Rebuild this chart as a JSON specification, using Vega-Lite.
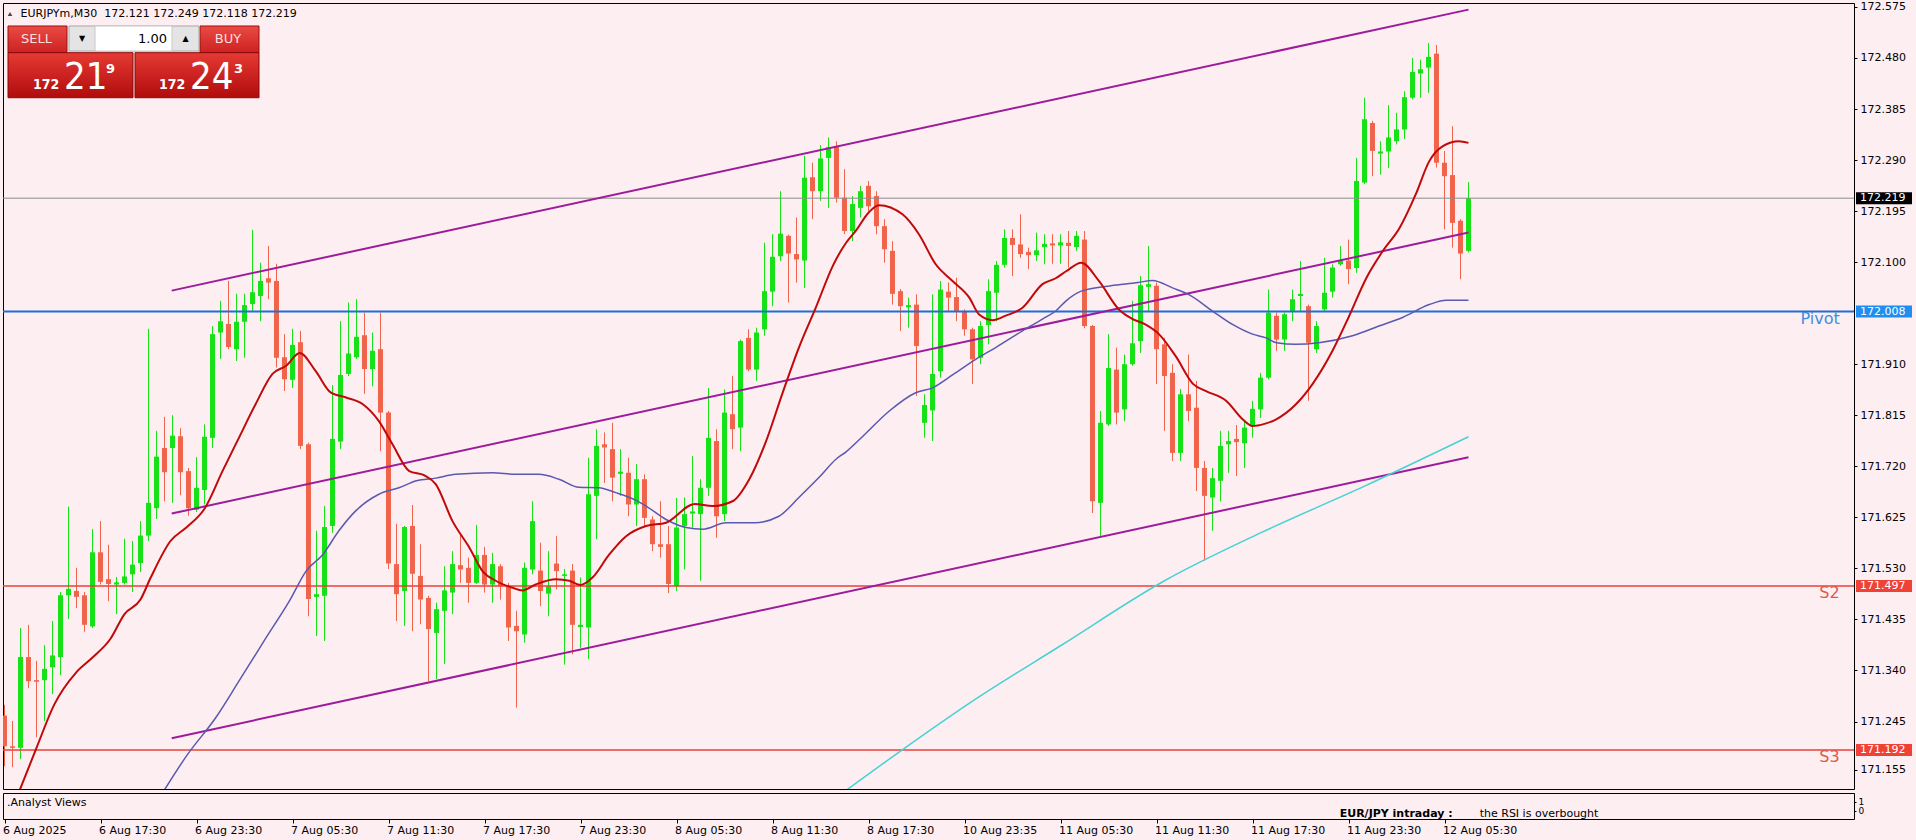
{
"$schema":"https://vega.github.io/schema/vega-lite/v6.json",
"background":"#fdeef2",
"padding":{"left":1,"top":0,"right":6,"bottom":8},
"spacing":2,
"config":{"view":{"stroke":"#000000","strokeWidth":1},"scale":{"continuousPadding":0},"axis":{"labelFont":"DejaVu Sans","labelFontSize":11,"labelColor":"#000000","tickColor":"#000000","domain":false,"grid":false}},
"resolve":{"scale":{"x":"independent","y":"independent"}},
"datasets":{
"candles":[
{"i":0,"o":171.256,"h":171.276,"l":171.162,"c":171.199},
{"i":1,"o":171.199,"h":171.246,"l":171.160,"c":171.196},
{"i":2,"o":171.196,"h":171.419,"l":171.175,"c":171.365},
{"i":3,"o":171.365,"h":171.425,"l":171.307,"c":171.320},
{"i":4,"o":171.322,"h":171.358,"l":171.216,"c":171.319},
{"i":5,"o":171.322,"h":171.387,"l":171.246,"c":171.343},
{"i":6,"o":171.346,"h":171.432,"l":171.296,"c":171.368},
{"i":7,"o":171.365,"h":171.486,"l":171.331,"c":171.480},
{"i":8,"o":171.480,"h":171.645,"l":171.436,"c":171.492},
{"i":9,"o":171.488,"h":171.531,"l":171.456,"c":171.477},
{"i":10,"o":171.480,"h":171.486,"l":171.412,"c":171.425},
{"i":11,"o":171.422,"h":171.603,"l":171.419,"c":171.560},
{"i":12,"o":171.560,"h":171.618,"l":171.500,"c":171.505},
{"i":13,"o":171.510,"h":171.574,"l":171.469,"c":171.501},
{"i":14,"o":171.500,"h":171.514,"l":171.445,"c":171.504},
{"i":15,"o":171.503,"h":171.585,"l":171.500,"c":171.515},
{"i":16,"o":171.519,"h":171.581,"l":171.486,"c":171.537},
{"i":17,"o":171.540,"h":171.618,"l":171.523,"c":171.591},
{"i":18,"o":171.591,"h":171.976,"l":171.581,"c":171.652},
{"i":19,"o":171.642,"h":171.786,"l":171.622,"c":171.738},
{"i":20,"o":171.754,"h":171.812,"l":171.655,"c":171.709},
{"i":21,"o":171.754,"h":171.815,"l":171.652,"c":171.777},
{"i":22,"o":171.776,"h":171.791,"l":171.666,"c":171.709},
{"i":23,"o":171.711,"h":171.717,"l":171.628,"c":171.642},
{"i":24,"o":171.639,"h":171.737,"l":171.635,"c":171.680},
{"i":25,"o":171.676,"h":171.798,"l":171.649,"c":171.775},
{"i":26,"o":171.773,"h":171.981,"l":171.754,"c":171.966},
{"i":27,"o":171.969,"h":172.028,"l":171.920,"c":171.990},
{"i":28,"o":171.985,"h":172.065,"l":171.938,"c":171.942},
{"i":29,"o":171.938,"h":172.041,"l":171.916,"c":171.989},
{"i":30,"o":171.989,"h":172.041,"l":171.922,"c":172.020},
{"i":31,"o":172.022,"h":172.160,"l":172.009,"c":172.044},
{"i":32,"o":172.037,"h":172.099,"l":171.990,"c":172.065},
{"i":33,"o":172.070,"h":172.130,"l":172.031,"c":172.062},
{"i":34,"o":172.065,"h":172.097,"l":171.904,"c":171.922},
{"i":35,"o":171.923,"h":171.966,"l":171.860,"c":171.882},
{"i":36,"o":171.881,"h":171.976,"l":171.866,"c":171.946},
{"i":37,"o":171.951,"h":171.972,"l":171.752,"c":171.758},
{"i":38,"o":171.761,"h":171.764,"l":171.441,"c":171.473},
{"i":39,"o":171.477,"h":171.600,"l":171.404,"c":171.482},
{"i":40,"o":171.479,"h":171.646,"l":171.395,"c":171.607},
{"i":41,"o":171.609,"h":171.871,"l":171.596,"c":171.771},
{"i":42,"o":171.766,"h":171.990,"l":171.752,"c":171.890},
{"i":43,"o":171.892,"h":172.025,"l":171.888,"c":171.930},
{"i":44,"o":171.923,"h":172.031,"l":171.920,"c":171.961},
{"i":45,"o":171.964,"h":172.006,"l":171.855,"c":171.901},
{"i":46,"o":171.901,"h":171.969,"l":171.869,"c":171.935},
{"i":47,"o":171.938,"h":172.006,"l":171.748,"c":171.820},
{"i":48,"o":171.820,"h":171.823,"l":171.529,"c":171.539},
{"i":49,"o":171.538,"h":171.613,"l":171.432,"c":171.482},
{"i":50,"o":171.488,"h":171.609,"l":171.423,"c":171.607},
{"i":51,"o":171.609,"h":171.648,"l":171.413,"c":171.520},
{"i":52,"o":171.516,"h":171.575,"l":171.426,"c":171.472},
{"i":53,"o":171.475,"h":171.479,"l":171.320,"c":171.417},
{"i":54,"o":171.410,"h":171.466,"l":171.324,"c":171.454},
{"i":55,"o":171.451,"h":171.534,"l":171.352,"c":171.489},
{"i":56,"o":171.485,"h":171.562,"l":171.445,"c":171.538},
{"i":57,"o":171.536,"h":171.595,"l":171.503,"c":171.528},
{"i":58,"o":171.531,"h":171.550,"l":171.466,"c":171.503},
{"i":59,"o":171.503,"h":171.611,"l":171.501,"c":171.555},
{"i":60,"o":171.555,"h":171.570,"l":171.485,"c":171.500},
{"i":61,"o":171.500,"h":171.559,"l":171.466,"c":171.538},
{"i":62,"o":171.534,"h":171.538,"l":171.472,"c":171.497},
{"i":63,"o":171.497,"h":171.503,"l":171.395,"c":171.420},
{"i":64,"o":171.423,"h":171.451,"l":171.271,"c":171.413},
{"i":65,"o":171.407,"h":171.541,"l":171.392,"c":171.531},
{"i":66,"o":171.528,"h":171.655,"l":171.519,"c":171.618},
{"i":67,"o":171.526,"h":171.578,"l":171.460,"c":171.488},
{"i":68,"o":171.483,"h":171.562,"l":171.441,"c":171.497},
{"i":69,"o":171.539,"h":171.590,"l":171.491,"c":171.525},
{"i":70,"o":171.516,"h":171.529,"l":171.351,"c":171.519},
{"i":71,"o":171.526,"h":171.538,"l":171.370,"c":171.425},
{"i":72,"o":171.421,"h":171.513,"l":171.382,"c":171.425},
{"i":73,"o":171.420,"h":171.736,"l":171.361,"c":171.668},
{"i":74,"o":171.665,"h":171.789,"l":171.584,"c":171.758},
{"i":75,"o":171.761,"h":171.783,"l":171.689,"c":171.755},
{"i":76,"o":171.752,"h":171.801,"l":171.655,"c":171.699},
{"i":77,"o":171.706,"h":171.752,"l":171.665,"c":171.710},
{"i":78,"o":171.708,"h":171.736,"l":171.627,"c":171.649},
{"i":79,"o":171.649,"h":171.724,"l":171.609,"c":171.696},
{"i":80,"o":171.696,"h":171.705,"l":171.609,"c":171.624},
{"i":81,"o":171.621,"h":171.627,"l":171.562,"c":171.575},
{"i":82,"o":171.575,"h":171.655,"l":171.550,"c":171.570},
{"i":83,"o":171.575,"h":171.609,"l":171.484,"c":171.501},
{"i":84,"o":171.497,"h":171.661,"l":171.488,"c":171.606},
{"i":85,"o":171.609,"h":171.662,"l":171.528,"c":171.631},
{"i":86,"o":171.632,"h":171.739,"l":171.606,"c":171.636},
{"i":87,"o":171.631,"h":171.696,"l":171.507,"c":171.680},
{"i":88,"o":171.680,"h":171.866,"l":171.665,"c":171.773},
{"i":89,"o":171.767,"h":171.789,"l":171.587,"c":171.627},
{"i":90,"o":171.631,"h":171.863,"l":171.618,"c":171.820},
{"i":91,"o":171.817,"h":171.888,"l":171.752,"c":171.789},
{"i":92,"o":171.792,"h":171.956,"l":171.748,"c":171.953},
{"i":93,"o":171.959,"h":171.975,"l":171.897,"c":171.900},
{"i":94,"o":171.900,"h":171.978,"l":171.879,"c":171.969},
{"i":95,"o":171.975,"h":172.136,"l":171.963,"c":172.046},
{"i":96,"o":172.045,"h":172.152,"l":172.018,"c":172.110},
{"i":97,"o":172.111,"h":172.232,"l":172.102,"c":172.153},
{"i":98,"o":172.149,"h":172.151,"l":172.025,"c":172.116},
{"i":99,"o":172.115,"h":172.183,"l":172.062,"c":172.105},
{"i":100,"o":172.103,"h":172.298,"l":172.052,"c":172.257},
{"i":101,"o":172.258,"h":172.285,"l":172.180,"c":172.232},
{"i":102,"o":172.232,"h":172.318,"l":172.214,"c":172.293},
{"i":103,"o":172.294,"h":172.332,"l":172.201,"c":172.314},
{"i":104,"o":172.316,"h":172.325,"l":172.211,"c":172.220},
{"i":105,"o":172.220,"h":172.273,"l":172.152,"c":172.158},
{"i":106,"o":172.158,"h":172.223,"l":172.139,"c":172.208},
{"i":107,"o":172.201,"h":172.242,"l":172.183,"c":172.232},
{"i":108,"o":172.242,"h":172.251,"l":172.195,"c":172.204},
{"i":109,"o":172.223,"h":172.232,"l":172.152,"c":172.167},
{"i":110,"o":172.167,"h":172.180,"l":172.099,"c":172.124},
{"i":111,"o":172.121,"h":172.139,"l":172.021,"c":172.041},
{"i":112,"o":172.046,"h":172.050,"l":171.972,"c":172.018},
{"i":113,"o":172.016,"h":172.034,"l":171.978,"c":172.020},
{"i":114,"o":172.021,"h":172.040,"l":171.851,"c":171.944},
{"i":115,"o":171.801,"h":171.854,"l":171.773,"c":171.834},
{"i":116,"o":171.824,"h":172.040,"l":171.767,"c":171.892},
{"i":117,"o":171.897,"h":172.065,"l":171.885,"c":172.049},
{"i":118,"o":172.045,"h":172.062,"l":172.009,"c":172.034},
{"i":119,"o":172.035,"h":172.071,"l":171.990,"c":172.009},
{"i":120,"o":172.008,"h":172.012,"l":171.963,"c":171.975},
{"i":121,"o":171.975,"h":171.978,"l":171.873,"c":171.919},
{"i":122,"o":171.922,"h":171.990,"l":171.910,"c":171.981},
{"i":123,"o":171.983,"h":172.068,"l":171.947,"c":172.046},
{"i":124,"o":172.043,"h":172.102,"l":171.990,"c":172.095},
{"i":125,"o":172.095,"h":172.161,"l":172.090,"c":172.145},
{"i":126,"o":172.145,"h":172.161,"l":172.074,"c":172.132},
{"i":127,"o":172.133,"h":172.189,"l":172.108,"c":172.115},
{"i":128,"o":172.119,"h":172.127,"l":172.087,"c":172.113},
{"i":129,"o":172.113,"h":172.155,"l":172.102,"c":172.122},
{"i":130,"o":172.128,"h":172.152,"l":172.096,"c":172.134},
{"i":131,"o":172.135,"h":172.152,"l":172.097,"c":172.131},
{"i":132,"o":172.131,"h":172.152,"l":172.097,"c":172.137},
{"i":133,"o":172.136,"h":172.158,"l":172.090,"c":172.130},
{"i":134,"o":172.128,"h":172.158,"l":172.121,"c":172.149},
{"i":135,"o":172.142,"h":172.158,"l":171.977,"c":171.981},
{"i":136,"o":171.981,"h":171.983,"l":171.633,"c":171.655},
{"i":137,"o":171.652,"h":171.823,"l":171.590,"c":171.801},
{"i":138,"o":171.798,"h":171.966,"l":171.795,"c":171.903},
{"i":139,"o":171.900,"h":171.941,"l":171.798,"c":171.820},
{"i":140,"o":171.826,"h":171.928,"l":171.804,"c":171.910},
{"i":141,"o":171.910,"h":172.028,"l":171.907,"c":171.949},
{"i":142,"o":171.953,"h":172.074,"l":171.931,"c":172.057},
{"i":143,"o":172.054,"h":172.130,"l":172.009,"c":172.059},
{"i":144,"o":172.056,"h":172.062,"l":171.873,"c":171.938},
{"i":145,"o":171.947,"h":171.959,"l":171.786,"c":171.888},
{"i":146,"o":171.894,"h":171.910,"l":171.730,"c":171.745},
{"i":147,"o":171.745,"h":171.864,"l":171.730,"c":171.854},
{"i":148,"o":171.854,"h":171.928,"l":171.804,"c":171.823},
{"i":149,"o":171.829,"h":171.879,"l":171.674,"c":171.717},
{"i":150,"o":171.717,"h":171.730,"l":171.544,"c":171.665},
{"i":151,"o":171.662,"h":171.717,"l":171.600,"c":171.698},
{"i":152,"o":171.693,"h":171.786,"l":171.655,"c":171.758},
{"i":153,"o":171.761,"h":171.786,"l":171.708,"c":171.767},
{"i":154,"o":171.771,"h":171.797,"l":171.702,"c":171.765},
{"i":155,"o":171.763,"h":171.804,"l":171.717,"c":171.792},
{"i":156,"o":171.795,"h":171.842,"l":171.773,"c":171.827},
{"i":157,"o":171.826,"h":171.894,"l":171.810,"c":171.885},
{"i":158,"o":171.885,"h":172.049,"l":171.882,"c":172.006},
{"i":159,"o":172.000,"h":172.006,"l":171.935,"c":171.956},
{"i":160,"o":171.956,"h":172.006,"l":171.935,"c":172.003},
{"i":161,"o":172.008,"h":172.049,"l":171.990,"c":172.031},
{"i":162,"o":172.037,"h":172.102,"l":172.009,"c":172.041},
{"i":163,"o":172.018,"h":172.021,"l":171.842,"c":171.950},
{"i":164,"o":171.938,"h":171.990,"l":171.931,"c":171.981},
{"i":165,"o":172.012,"h":172.108,"l":172.009,"c":172.043},
{"i":166,"o":172.045,"h":172.096,"l":172.034,"c":172.090},
{"i":167,"o":172.096,"h":172.130,"l":172.093,"c":172.103},
{"i":168,"o":172.103,"h":172.142,"l":172.059,"c":172.087},
{"i":169,"o":172.089,"h":172.294,"l":172.080,"c":172.251},
{"i":170,"o":172.248,"h":172.406,"l":172.245,"c":172.366},
{"i":171,"o":172.359,"h":172.363,"l":172.260,"c":172.307},
{"i":172,"o":172.302,"h":172.325,"l":172.263,"c":172.306},
{"i":173,"o":172.306,"h":172.392,"l":172.275,"c":172.332},
{"i":174,"o":172.325,"h":172.378,"l":172.319,"c":172.347},
{"i":175,"o":172.347,"h":172.418,"l":172.329,"c":172.407},
{"i":176,"o":172.406,"h":172.480,"l":172.403,"c":172.454},
{"i":177,"o":172.451,"h":172.477,"l":172.406,"c":172.459},
{"i":178,"o":172.462,"h":172.508,"l":172.415,"c":172.482},
{"i":179,"o":172.488,"h":172.504,"l":172.276,"c":172.285},
{"i":180,"o":172.285,"h":172.307,"l":172.161,"c":172.260},
{"i":181,"o":172.262,"h":172.353,"l":172.127,"c":172.173},
{"i":182,"o":172.177,"h":172.180,"l":172.068,"c":172.116},
{"i":183,"o":172.121,"h":172.249,"l":172.118,"c":172.219}
],
"ma":[
{"ma":"fast","i":1.6,"p":171.106},{"ma":"fast","i":4,"p":171.196},{"ma":"fast","i":6.2,"p":171.276},{"ma":"fast","i":9,"p":171.337},{"ma":"fast","i":11,"p":171.364},{"ma":"fast","i":13.25,"p":171.399},{"ma":"fast","i":15,"p":171.445},{"ma":"fast","i":17,"p":171.472},{"ma":"fast","i":18.25,"p":171.512},{"ma":"fast","i":20.75,"p":171.581},{"ma":"fast","i":22.8,"p":171.607},{"ma":"fast","i":25,"p":171.641},{"ma":"fast","i":27.25,"p":171.711},{"ma":"fast","i":29.3,"p":171.773},{"ma":"fast","i":31.4,"p":171.836},{"ma":"fast","i":33.5,"p":171.892},{"ma":"fast","i":35.2,"p":171.907},{"ma":"fast","i":36.9,"p":171.931},{"ma":"fast","i":38.9,"p":171.897},{"ma":"fast","i":40.8,"p":171.857},{"ma":"fast","i":42.7,"p":171.848},{"ma":"fast","i":44.75,"p":171.836},{"ma":"fast","i":46.8,"p":171.804},{"ma":"fast","i":48.5,"p":171.761},{"ma":"fast","i":50.6,"p":171.711},{"ma":"fast","i":52.5,"p":171.703},{"ma":"fast","i":53.9,"p":171.687},{"ma":"fast","i":56,"p":171.618},{"ma":"fast","i":58.1,"p":171.569},{"ma":"fast","i":59.75,"p":171.525},{"ma":"fast","i":61.4,"p":171.507},{"ma":"fast","i":63.5,"p":171.494},{"ma":"fast","i":64.75,"p":171.489},{"ma":"fast","i":66.4,"p":171.500},{"ma":"fast","i":68.9,"p":171.510},{"ma":"fast","i":70.6,"p":171.507},{"ma":"fast","i":72,"p":171.499},{"ma":"fast","i":73.5,"p":171.513},{"ma":"fast","i":75.6,"p":171.556},{"ma":"fast","i":77.7,"p":171.590},{"ma":"fast","i":80.2,"p":171.609},{"ma":"fast","i":82.7,"p":171.615},{"ma":"fast","i":86.3,"p":171.650},{"ma":"fast","i":88.5,"p":171.646},{"ma":"fast","i":91,"p":171.655},{"ma":"fast","i":93.1,"p":171.696},{"ma":"fast","i":95.2,"p":171.767},{"ma":"fast","i":97.2,"p":171.854},{"ma":"fast","i":99.3,"p":171.941},{"ma":"fast","i":101.4,"p":172.015},{"ma":"fast","i":103.6,"p":172.095},{"ma":"fast","i":105.2,"p":172.136},{"ma":"fast","i":106.4,"p":172.158},{"ma":"fast","i":108,"p":172.192},{"ma":"fast","i":109.3,"p":172.206},{"ma":"fast","i":112.25,"p":172.189},{"ma":"fast","i":114.3,"p":172.152},{"ma":"fast","i":116.4,"p":172.096},{"ma":"fast","i":118.5,"p":172.065},{"ma":"fast","i":120.6,"p":172.034},{"ma":"fast","i":121.8,"p":172.003},{"ma":"fast","i":123.5,"p":171.992},{"ma":"fast","i":125.1,"p":172.000},{"ma":"fast","i":127.25,"p":172.015},{"ma":"fast","i":129.75,"p":172.059},{"ma":"fast","i":131.4,"p":172.070},{"ma":"fast","i":132.7,"p":172.083},{"ma":"fast","i":134.6,"p":172.099},{"ma":"fast","i":136.8,"p":172.065},{"ma":"fast","i":139.3,"p":172.012},{"ma":"fast","i":140.9,"p":171.995},{"ma":"fast","i":142.6,"p":171.984},{"ma":"fast","i":144.3,"p":171.966},{"ma":"fast","i":146.4,"p":171.925},{"ma":"fast","i":148.6,"p":171.873},{"ma":"fast","i":150.2,"p":171.860},{"ma":"fast","i":152.7,"p":171.842},{"ma":"fast","i":154.8,"p":171.807},{"ma":"fast","i":156,"p":171.795},{"ma":"fast","i":157.5,"p":171.799},{"ma":"fast","i":158.9,"p":171.807},{"ma":"fast","i":161.4,"p":171.835},{"ma":"fast","i":163.5,"p":171.873},{"ma":"fast","i":166,"p":171.935},{"ma":"fast","i":168,"p":171.997},{"ma":"fast","i":170.25,"p":172.071},{"ma":"fast","i":172.3,"p":172.121},{"ma":"fast","i":174.4,"p":172.164},{"ma":"fast","i":176.4,"p":172.226},{"ma":"fast","i":178.1,"p":172.288},{"ma":"fast","i":179.8,"p":172.316},{"ma":"fast","i":181.8,"p":172.325},{"ma":"fast","i":183,"p":172.322},
{"ma":"mid","i":19.5,"p":171.106},{"ma":"mid","i":22.8,"p":171.182},{"ma":"mid","i":26.4,"p":171.252},{"ma":"mid","i":29.3,"p":171.320},{"ma":"mid","i":32.7,"p":171.401},{"ma":"mid","i":35.6,"p":171.469},{"ma":"mid","i":37.7,"p":171.525},{"ma":"mid","i":39.8,"p":171.556},{"ma":"mid","i":41.8,"p":171.600},{"ma":"mid","i":43.9,"p":171.637},{"ma":"mid","i":46.8,"p":171.668},{"ma":"mid","i":49.3,"p":171.680},{"ma":"mid","i":51.5,"p":171.693},{"ma":"mid","i":53.9,"p":171.698},{"ma":"mid","i":56.4,"p":171.705},{"ma":"mid","i":61,"p":171.708},{"ma":"mid","i":63.9,"p":171.705},{"ma":"mid","i":66.8,"p":171.705},{"ma":"mid","i":69.3,"p":171.696},{"ma":"mid","i":71.8,"p":171.681},{"ma":"mid","i":74.3,"p":171.680},{"ma":"mid","i":76.4,"p":171.671},{"ma":"mid","i":78.9,"p":171.657},{"ma":"mid","i":80.2,"p":171.646},{"ma":"mid","i":82.7,"p":171.621},{"ma":"mid","i":85.2,"p":171.606},{"ma":"mid","i":87.3,"p":171.603},{"ma":"mid","i":90.2,"p":171.615},{"ma":"mid","i":93.8,"p":171.615},{"ma":"mid","i":96.8,"p":171.627},{"ma":"mid","i":99.3,"p":171.662},{"ma":"mid","i":101.8,"p":171.699},{"ma":"mid","i":104,"p":171.734},{"ma":"mid","i":105.2,"p":171.747},{"ma":"mid","i":107.3,"p":171.776},{"ma":"mid","i":110.6,"p":171.823},{"ma":"mid","i":113.9,"p":171.857},{"ma":"mid","i":116,"p":171.866},{"ma":"mid","i":118.6,"p":171.891},{"ma":"mid","i":121.4,"p":171.919},{"ma":"mid","i":123.9,"p":171.941},{"ma":"mid","i":127.25,"p":171.972},{"ma":"mid","i":129.75,"p":171.994},{"ma":"mid","i":131.4,"p":172.009},{"ma":"mid","i":132.7,"p":172.028},{"ma":"mid","i":134.6,"p":172.046},{"ma":"mid","i":138.3,"p":172.056},{"ma":"mid","i":141.7,"p":172.062},{"ma":"mid","i":143.5,"p":172.066},{"ma":"mid","i":146,"p":172.052},{"ma":"mid","i":148,"p":172.040},{"ma":"mid","i":151,"p":172.009},{"ma":"mid","i":153.5,"p":171.984},{"ma":"mid","i":156,"p":171.966},{"ma":"mid","i":157.7,"p":171.959},{"ma":"mid","i":159,"p":171.950},{"ma":"mid","i":161.4,"p":171.947},{"ma":"mid","i":164.3,"p":171.950},{"ma":"mid","i":168.5,"p":171.963},{"ma":"mid","i":171.8,"p":171.981},{"ma":"mid","i":174.75,"p":171.997},{"ma":"mid","i":178.1,"p":172.021},{"ma":"mid","i":180.2,"p":172.029},{"ma":"mid","i":183,"p":172.029},
{"ma":"slow","i":104.2,"p":171.106},{"ma":"slow","i":112,"p":171.190},{"ma":"slow","i":121,"p":171.283},{"ma":"slow","i":132,"p":171.386},{"ma":"slow","i":145,"p":171.507},{"ma":"slow","i":157,"p":171.596},{"ma":"slow","i":170,"p":171.683},{"ma":"slow","i":183,"p":171.775}
],
"channel":[
{"line":"top","i":20.9,"p":172.047},{"line":"top","i":183,"p":172.570},
{"line":"middle","i":20.9,"p":171.632},{"line":"middle","i":183,"p":172.155},
{"line":"bottom","i":20.9,"p":171.214},{"line":"bottom","i":183,"p":171.737}
],
"levels":[
{"name":"bid","v":172.219},{"name":"Pivot","v":172.008},{"name":"S2","v":171.497},{"name":"S3","v":171.192}
]
},
"vconcat":[
{"width":1851,"height":786,
"layer":[
{"data":{"name":"candles"},"mark":{"type":"rule","strokeWidth":1,"clip":true},
"encoding":{
"x":{"field":"i","type":"quantitative","scale":{"domain":[-0.1875,231.1875],"nice":false,"zero":false,"padding":0},"axis":null},
"y":{"field":"l","type":"quantitative","scale":{"domain":[171.1194,172.5823],"nice":false,"zero":false,"padding":0},"axis":{"orient":"right","values":[172.575,172.48,172.385,172.29,172.195,172.1,171.91,171.815,171.72,171.625,171.53,171.435,171.34,171.245,171.155],"format":".3f","tickSize":3,"labelPadding":3,"title":null}},
"y2":{"field":"h"},
"color":{"condition":{"test":"datum.c >= datum.o","value":"#16e016"},"value":"#f0644c"}}},
{"data":{"name":"candles"},"mark":{"type":"bar","width":5,"clip":true},
"encoding":{
"x":{"field":"i","type":"quantitative","axis":null},
"y":{"field":"o","type":"quantitative","axis":{"orient":"right","values":[172.575,172.48,172.385,172.29,172.195,172.1,171.91,171.815,171.72,171.625,171.53,171.435,171.34,171.245,171.155],"format":".3f","tickSize":3,"labelPadding":3,"title":null}},
"y2":{"field":"c"},
"color":{"condition":{"test":"datum.c >= datum.o","value":"#16e016"},"value":"#f0644c"}}},
{"data":{"name":"levels"},"mark":{"type":"rule"},
"encoding":{
"y":{"field":"v","type":"quantitative","axis":{"orient":"right","values":[172.575,172.48,172.385,172.29,172.195,172.1,171.91,171.815,171.72,171.625,171.53,171.435,171.34,171.245,171.155],"format":".3f","tickSize":3,"labelPadding":3,"title":null}},
"color":{"condition":[{"test":"datum.name === 'bid'","value":"#8c8c8c"},{"test":"datum.name === 'Pivot'","value":"#1f6fd8"}],"value":"#e8403a"},
"strokeWidth":{"condition":[{"test":"datum.name === 'bid'","value":1},{"test":"datum.name === 'Pivot'","value":2}],"value":1.5}}},
{"data":{"name":"channel"},"mark":{"type":"line","color":"#9c1c9c","strokeWidth":2,"clip":true},
"encoding":{"x":{"field":"i","type":"quantitative","axis":null},"y":{"field":"p","type":"quantitative","axis":{"orient":"right","values":[172.575,172.48,172.385,172.29,172.195,172.1,171.91,171.815,171.72,171.625,171.53,171.435,171.34,171.245,171.155],"format":".3f","tickSize":3,"labelPadding":3,"title":null}},"detail":{"field":"line"}}},
{"data":{"name":"ma"},"transform":[{"filter":"datum.ma === 'slow'"}],"mark":{"type":"line","color":"#46d2d2","strokeWidth":1.5,"interpolate":"monotone","clip":true},
"encoding":{"x":{"field":"i","type":"quantitative","axis":null},"y":{"field":"p","type":"quantitative","axis":{"orient":"right","values":[172.575,172.48,172.385,172.29,172.195,172.1,171.91,171.815,171.72,171.625,171.53,171.435,171.34,171.245,171.155],"format":".3f","tickSize":3,"labelPadding":3,"title":null}}}},
{"data":{"name":"ma"},"transform":[{"filter":"datum.ma === 'mid'"}],"mark":{"type":"line","color":"#5a58b0","strokeWidth":1.5,"interpolate":"monotone","clip":true},
"encoding":{"x":{"field":"i","type":"quantitative","axis":null},"y":{"field":"p","type":"quantitative","axis":{"orient":"right","values":[172.575,172.48,172.385,172.29,172.195,172.1,171.91,171.815,171.72,171.625,171.53,171.435,171.34,171.245,171.155],"format":".3f","tickSize":3,"labelPadding":3,"title":null}}}},
{"data":{"name":"ma"},"transform":[{"filter":"datum.ma === 'fast'"}],"mark":{"type":"line","color":"#c00a0a","strokeWidth":2,"interpolate":"monotone","clip":true},
"encoding":{"x":{"field":"i","type":"quantitative","axis":null},"y":{"field":"p","type":"quantitative","axis":{"orient":"right","values":[172.575,172.48,172.385,172.29,172.195,172.1,171.91,171.815,171.72,171.625,171.53,171.435,171.34,171.245,171.155],"format":".3f","tickSize":3,"labelPadding":3,"title":null}}}},
{"data":{"name":"levels"},"transform":[{"filter":"datum.name !== 'bid'"}],"mark":{"type":"text","align":"right","baseline":"middle","font":"DejaVu Sans","fontSize":16,"yOffset":7},
"encoding":{"x":{"datum":229.4,"axis":null},"y":{"field":"v","type":"quantitative","axis":{"orient":"right","values":[172.575,172.48,172.385,172.29,172.195,172.1,171.91,171.815,171.72,171.625,171.53,171.435,171.34,171.245,171.155],"format":".3f","tickSize":3,"labelPadding":3,"title":null}},"text":{"field":"name"},
"color":{"condition":{"test":"datum.name === 'Pivot'","value":"#3d8ee0"},"value":"#e2574c"}}},
{"data":{"name":"levels"},"mark":{"type":"rect","yOffset":-6,"y2Offset":6},
"encoding":{"x":{"datum":231.4375,"axis":null},"x2":{"datum":238.4375},"y":{"field":"v","type":"quantitative","axis":{"orient":"right","values":[172.575,172.48,172.385,172.29,172.195,172.1,171.91,171.815,171.72,171.625,171.53,171.435,171.34,171.245,171.155],"format":".3f","tickSize":3,"labelPadding":3,"title":null}},"y2":{"field":"v"},
"color":{"condition":[{"test":"datum.name === 'bid'","value":"#000000"},{"test":"datum.name === 'Pivot'","value":"#1e8ef0"}],"value":"#ef4136"}}},
{"data":{"name":"levels"},"mark":{"type":"text","align":"left","baseline":"middle","font":"DejaVu Sans","fontSize":11,"color":"#ffffff"},
"encoding":{"x":{"datum":231.9375,"axis":null},"y":{"field":"v","type":"quantitative","axis":{"orient":"right","values":[172.575,172.48,172.385,172.29,172.195,172.1,171.91,171.815,171.72,171.625,171.53,171.435,171.34,171.245,171.155],"format":".3f","tickSize":3,"labelPadding":3,"title":null}},"text":{"field":"v","format":".3f"}}},
{"data":{"values":[{}]},"mark":{"type":"point","shape":"triangle-up","filled":true,"color":"#000000","size":22},
"encoding":{"x":{"datum":0.69,"axis":null},"y":{"datum":172.5618,"axis":{"orient":"right","values":[172.575,172.48,172.385,172.29,172.195,172.1,171.91,171.815,171.72,171.625,171.53,171.435,171.34,171.245,171.155],"format":".3f","tickSize":3,"labelPadding":3,"title":null}}}},
{"data":{"values":[{}]},"mark":{"type":"text","align":"left","baseline":"middle","font":"DejaVu Sans","fontSize":11,"color":"#000000"},
"encoding":{"x":{"datum":2.0,"axis":null},"y":{"datum":172.5614,"axis":{"orient":"right","values":[172.575,172.48,172.385,172.29,172.195,172.1,171.91,171.815,171.72,171.625,171.53,171.435,171.34,171.245,171.155],"format":".3f","tickSize":3,"labelPadding":3,"title":null}},"text":{"value":"EURJPYm,M30\u00a0 172.121 172.249 172.118 172.219"}}},
{"data":{"values":[{}]},"mark":{"type":"rect","stroke":"#9a1010","strokeWidth":1,"fill":{"gradient":"linear","x1":0,"y1":0,"x2":0,"y2":1,"stops":[{"offset":0,"color":"#ea4a44"},{"offset":1,"color":"#cc2222"}]}},
"encoding":{"x":{"datum":0.4375,"axis":null},"x2":{"datum":7.8125},"y":{"datum":172.5395,"axis":{"orient":"right","values":[172.575,172.48,172.385,172.29,172.195,172.1,171.91,171.815,171.72,171.625,171.53,171.435,171.34,171.245,171.155],"format":".3f","tickSize":3,"labelPadding":3,"title":null}},"y2":{"datum":172.4898}}},
{"data":{"values":[{}]},"mark":{"type":"rect","stroke":"#9a1010","strokeWidth":1,"fill":{"gradient":"linear","x1":0,"y1":0,"x2":0,"y2":1,"stops":[{"offset":0,"color":"#ea4a44"},{"offset":1,"color":"#cc2222"}]}},
"encoding":{"x":{"datum":24.4375,"axis":null},"x2":{"datum":31.8125},"y":{"datum":172.5395,"axis":{"orient":"right","values":[172.575,172.48,172.385,172.29,172.195,172.1,171.91,171.815,171.72,171.625,171.53,171.435,171.34,171.245,171.155],"format":".3f","tickSize":3,"labelPadding":3,"title":null}},"y2":{"datum":172.4898}}},
{"data":{"values":[{}]},"mark":{"type":"rect","stroke":"#a8a8a8","strokeWidth":1,"fill":"#e4e4e4"},
"encoding":{"x":{"datum":8.0625,"axis":null},"x2":{"datum":24.3125},"y":{"datum":172.5395,"axis":{"orient":"right","values":[172.575,172.48,172.385,172.29,172.195,172.1,171.91,171.815,171.72,171.625,171.53,171.435,171.34,171.245,171.155],"format":".3f","tickSize":3,"labelPadding":3,"title":null}},"y2":{"datum":172.4929}}},
{"data":{"values":[{}]},"mark":{"type":"rect","stroke":"#c8c8c8","strokeWidth":1,"fill":"#ffffff"},
"encoding":{"x":{"datum":11.3125,"axis":null},"x2":{"datum":20.9375},"y":{"datum":172.5395,"axis":{"orient":"right","values":[172.575,172.48,172.385,172.29,172.195,172.1,171.91,171.815,171.72,171.625,171.53,171.435,171.34,171.245,171.155],"format":".3f","tickSize":3,"labelPadding":3,"title":null}},"y2":{"datum":172.4929}}},
{"data":{"values":[{}]},"mark":{"type":"rect","stroke":"#8a0808","strokeWidth":1,"fill":{"gradient":"linear","x1":0,"y1":0,"x2":0,"y2":1,"stops":[{"offset":0,"color":"#e63a34"},{"offset":1,"color":"#b00c0c"}]}},
"encoding":{"x":{"datum":0.4375,"axis":null},"x2":{"datum":16.0625},"y":{"datum":172.4898,"axis":{"orient":"right","values":[172.575,172.48,172.385,172.29,172.195,172.1,171.91,171.815,171.72,171.625,171.53,171.435,171.34,171.245,171.155],"format":".3f","tickSize":3,"labelPadding":3,"title":null}},"y2":{"datum":172.4060}}},
{"data":{"values":[{}]},"mark":{"type":"rect","stroke":"#8a0808","strokeWidth":1,"fill":{"gradient":"linear","x1":0,"y1":0,"x2":0,"y2":1,"stops":[{"offset":0,"color":"#e63a34"},{"offset":1,"color":"#b00c0c"}]}},
"encoding":{"x":{"datum":16.3125,"axis":null},"x2":{"datum":31.8125},"y":{"datum":172.4898,"axis":{"orient":"right","values":[172.575,172.48,172.385,172.29,172.195,172.1,171.91,171.815,171.72,171.625,171.53,171.435,171.34,171.245,171.155],"format":".3f","tickSize":3,"labelPadding":3,"title":null}},"y2":{"datum":172.4060}}},
{"data":{"values":[{}]},"mark":{"type":"text","align":"center","baseline":"middle","font":"DejaVu Sans","fontSize":13,"color":"#ffdede"},
"encoding":{"x":{"datum":4.0,"axis":null},"y":{"datum":172.5153,"axis":{"orient":"right","values":[172.575,172.48,172.385,172.29,172.195,172.1,171.91,171.815,171.72,171.625,171.53,171.435,171.34,171.245,171.155],"format":".3f","tickSize":3,"labelPadding":3,"title":null}},"text":{"value":"SELL"}}},
{"data":{"values":[{}]},"mark":{"type":"text","align":"center","baseline":"middle","font":"DejaVu Sans","fontSize":13,"color":"#ffdede"},
"encoding":{"x":{"datum":27.9375,"axis":null},"y":{"datum":172.5153,"axis":{"orient":"right","values":[172.575,172.48,172.385,172.29,172.195,172.1,171.91,171.815,171.72,171.625,171.53,171.435,171.34,171.245,171.155],"format":".3f","tickSize":3,"labelPadding":3,"title":null}},"text":{"value":"BUY"}}},
{"data":{"values":[{}]},"mark":{"type":"text","align":"right","baseline":"middle","font":"DejaVu Sans","fontSize":13,"color":"#000000"},
"encoding":{"x":{"datum":20.3125,"axis":null},"y":{"datum":172.5153,"axis":{"orient":"right","values":[172.575,172.48,172.385,172.29,172.195,172.1,171.91,171.815,171.72,171.625,171.53,171.435,171.34,171.245,171.155],"format":".3f","tickSize":3,"labelPadding":3,"title":null}},"text":{"value":"1.00"}}},
{"data":{"values":[{}]},"mark":{"type":"text","align":"center","baseline":"middle","font":"DejaVu Sans","fontSize":8,"color":"#000000"},
"encoding":{"x":{"datum":9.6875,"axis":null},"y":{"datum":172.5153,"axis":{"orient":"right","values":[172.575,172.48,172.385,172.29,172.195,172.1,171.91,171.815,171.72,171.625,171.53,171.435,171.34,171.245,171.155],"format":".3f","tickSize":3,"labelPadding":3,"title":null}},"text":{"value":"▼"}}},
{"data":{"values":[{}]},"mark":{"type":"text","align":"center","baseline":"middle","font":"DejaVu Sans","fontSize":8,"color":"#000000"},
"encoding":{"x":{"datum":22.625,"axis":null},"y":{"datum":172.5153,"axis":{"orient":"right","values":[172.575,172.48,172.385,172.29,172.195,172.1,171.91,171.815,171.72,171.625,171.53,171.435,171.34,171.245,171.155],"format":".3f","tickSize":3,"labelPadding":3,"title":null}},"text":{"value":"▲"}}},
{"data":{"values":[{}]},"mark":{"type":"text","align":"left","baseline":"alphabetic","font":"DejaVu Sans Condensed, DejaVu Sans","fontWeight":"bold","fontSize":14,"color":"#ffffff"},
"encoding":{"x":{"datum":3.5625,"axis":null},"y":{"datum":172.4217,"axis":{"orient":"right","values":[172.575,172.48,172.385,172.29,172.195,172.1,171.91,171.815,171.72,171.625,171.53,171.435,171.34,171.245,171.155],"format":".3f","tickSize":3,"labelPadding":3,"title":null}},"text":{"value":"172"}}},
{"data":{"values":[{}]},"mark":{"type":"text","align":"left","baseline":"alphabetic","font":"Liberation Sans Narrow, DejaVu Sans Condensed, DejaVu Sans","fontSize":38,"color":"#ffffff"},
"encoding":{"x":{"datum":7.4375,"axis":null},"y":{"datum":172.4217,"axis":{"orient":"right","values":[172.575,172.48,172.385,172.29,172.195,172.1,171.91,171.815,171.72,171.625,171.53,171.435,171.34,171.245,171.155],"format":".3f","tickSize":3,"labelPadding":3,"title":null}},"text":{"value":"21"}}},
{"data":{"values":[{}]},"mark":{"type":"text","align":"left","baseline":"alphabetic","font":"DejaVu Sans","fontWeight":"bold","fontSize":13,"color":"#ffffff"},
"encoding":{"x":{"datum":12.7,"axis":null},"y":{"datum":172.452,"axis":{"orient":"right","values":[172.575,172.48,172.385,172.29,172.195,172.1,171.91,171.815,171.72,171.625,171.53,171.435,171.34,171.245,171.155],"format":".3f","tickSize":3,"labelPadding":3,"title":null}},"text":{"value":"9"}}},
{"data":{"values":[{}]},"mark":{"type":"text","align":"left","baseline":"alphabetic","font":"DejaVu Sans Condensed, DejaVu Sans","fontWeight":"bold","fontSize":14,"color":"#ffffff"},
"encoding":{"x":{"datum":19.3125,"axis":null},"y":{"datum":172.4217,"axis":{"orient":"right","values":[172.575,172.48,172.385,172.29,172.195,172.1,171.91,171.815,171.72,171.625,171.53,171.435,171.34,171.245,171.155],"format":".3f","tickSize":3,"labelPadding":3,"title":null}},"text":{"value":"172"}}},
{"data":{"values":[{}]},"mark":{"type":"text","align":"left","baseline":"alphabetic","font":"Liberation Sans Narrow, DejaVu Sans Condensed, DejaVu Sans","fontSize":38,"color":"#ffffff"},
"encoding":{"x":{"datum":23.1875,"axis":null},"y":{"datum":172.4217,"axis":{"orient":"right","values":[172.575,172.48,172.385,172.29,172.195,172.1,171.91,171.815,171.72,171.625,171.53,171.435,171.34,171.245,171.155],"format":".3f","tickSize":3,"labelPadding":3,"title":null}},"text":{"value":"24"}}},
{"data":{"values":[{}]},"mark":{"type":"text","align":"left","baseline":"alphabetic","font":"DejaVu Sans","fontWeight":"bold","fontSize":13,"color":"#ffffff"},
"encoding":{"x":{"datum":28.7,"axis":null},"y":{"datum":172.452,"axis":{"orient":"right","values":[172.575,172.48,172.385,172.29,172.195,172.1,171.91,171.815,171.72,171.625,171.53,171.435,171.34,171.245,171.155],"format":".3f","tickSize":3,"labelPadding":3,"title":null}},"text":{"value":"3"}}}
]},
{"width":1851,"height":26,
"data":{"values":[{}]},
"layer":[
{"mark":{"type":"text","align":"left","baseline":"middle","font":"DejaVu Sans","fontSize":11,"color":"#000000"},
"encoding":{
"x":{"datum":0.3,"type":"quantitative","scale":{"domain":[-0.1875,231.1875],"nice":false,"zero":false,"padding":0},
"axis":{"orient":"bottom","values":[0,12,24,36,48,60,72,84,96,108,120,132,144,156,168,180],"labelExpr":"['6 Aug 2025','6 Aug 17:30','6 Aug 23:30','7 Aug 05:30','7 Aug 11:30','7 Aug 17:30','7 Aug 23:30','8 Aug 05:30','8 Aug 11:30','8 Aug 17:30','10 Aug 23:35','11 Aug 05:30','11 Aug 11:30','11 Aug 17:30','11 Aug 23:30','12 Aug 05:30'][round(datum.value/12)]","labelAlign":"left","labelBaseline":"top","labelPadding":1,"labelOffset":-2,"tickSize":4,"labelFlush":false,"labelOverlap":false,"labelBound":false,"title":null}},
"y":{"datum":0.885,"type":"quantitative","scale":{"domain":[-0.9,2],"nice":false,"zero":false,"padding":0},
"axis":{"orient":"right","values":[0,1],"format":"d","labelFontSize":9,"tickSize":2,"labelPadding":2,"title":null}},
"text":{"value":".Analyst Views"}}},
{"mark":{"type":"text","align":"left","baseline":"middle","font":"DejaVu Sans","fontSize":11,"fontWeight":"bold","color":"#000000"},
"encoding":{
"x":{"datum":166.9,"type":"quantitative","axis":{"orient":"bottom","values":[0,12,24,36,48,60,72,84,96,108,120,132,144,156,168,180],"labelExpr":"['6 Aug 2025','6 Aug 17:30','6 Aug 23:30','7 Aug 05:30','7 Aug 11:30','7 Aug 17:30','7 Aug 23:30','8 Aug 05:30','8 Aug 11:30','8 Aug 17:30','10 Aug 23:35','11 Aug 05:30','11 Aug 11:30','11 Aug 17:30','11 Aug 23:30','12 Aug 05:30'][round(datum.value/12)]","labelAlign":"left","labelBaseline":"top","labelPadding":1,"labelOffset":-2,"tickSize":4,"labelFlush":false,"labelOverlap":false,"labelBound":false,"title":null}},
"y":{"datum":-0.29,"type":"quantitative","axis":{"orient":"right","values":[0,1],"format":"d","labelFontSize":9,"tickSize":2,"labelPadding":2,"title":null}},
"text":{"value":"EUR/JPY intraday :"}}},
{"mark":{"type":"text","align":"left","baseline":"middle","font":"DejaVu Sans","fontSize":11,"color":"#000000"},
"encoding":{
"x":{"datum":184.4,"type":"quantitative","axis":{"orient":"bottom","values":[0,12,24,36,48,60,72,84,96,108,120,132,144,156,168,180],"labelExpr":"['6 Aug 2025','6 Aug 17:30','6 Aug 23:30','7 Aug 05:30','7 Aug 11:30','7 Aug 17:30','7 Aug 23:30','8 Aug 05:30','8 Aug 11:30','8 Aug 17:30','10 Aug 23:35','11 Aug 05:30','11 Aug 11:30','11 Aug 17:30','11 Aug 23:30','12 Aug 05:30'][round(datum.value/12)]","labelAlign":"left","labelBaseline":"top","labelPadding":1,"labelOffset":-2,"tickSize":4,"labelFlush":false,"labelOverlap":false,"labelBound":false,"title":null}},
"y":{"datum":-0.29,"type":"quantitative","axis":{"orient":"right","values":[0,1],"format":"d","labelFontSize":9,"tickSize":2,"labelPadding":2,"title":null}},
"text":{"value":"the RSI is overbought"}}}
]}
]
}
